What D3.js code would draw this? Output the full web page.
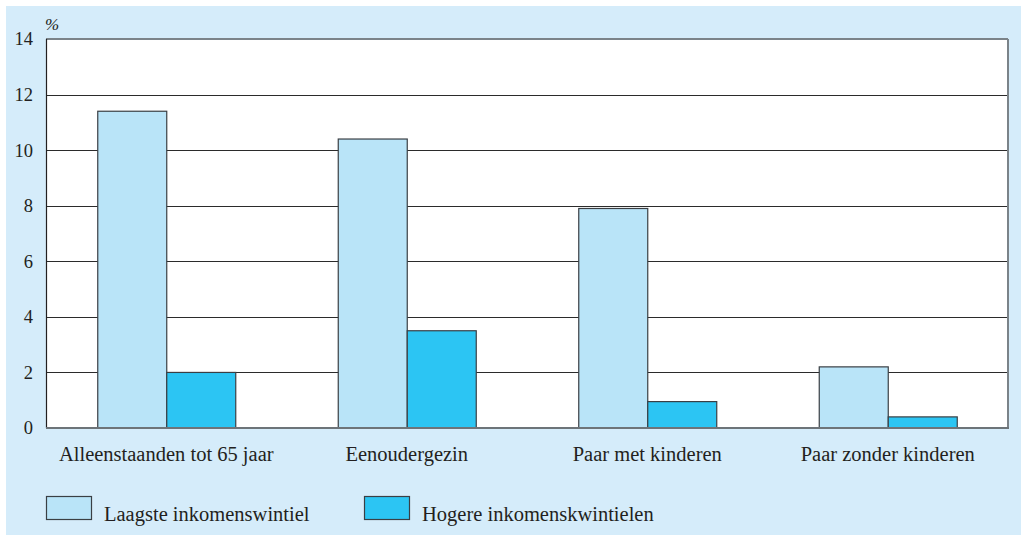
<!DOCTYPE html>
<html>
<head>
<meta charset="utf-8">
<script src="https://cdn.jsdelivr.net/npm/d3@7"></script>
<style>
  html, body { margin: 0; padding: 0; background: #fff; }
  svg text { font-family: "Liberation Serif", "DejaVu Serif", serif; fill: #231f20; }
</style>
</head>
<body>
<svg id="chart" width="1021" height="535"></svg>
<script>
// household types and the two income groups
var categories = ["Alleenstaanden tot 65 jaar", "Eenoudergezin", "Paar met kinderen", "Paar zonder kinderen"];
var seriesNames = ["Laagste inkomenswintiel", "Hogere inkomenskwintielen"];
var laagste = [11.4, 10.4, 7.9, 2.2];
var hogere = [2.0, 3.5, 0.95, 0.4];
var yTicks = [0, 2, 4, 6, 8, 10, 12, 14];

var colors = ["#b9e4f8", "#2cc5f3"];

var svg = d3.select("#chart");
var margin = { left: 46, right: 1008, top: 39, bottom: 428 };

// light blue panel
svg.append("rect")
    .attr("x", 6).attr("y", 6)
    .attr("width", 1015).attr("height", 529)
    .attr("fill", "#d5ecfa");

var x = d3.scaleBand()
    .domain(categories)
    .range([margin.left, margin.right])
    .paddingInner(0)
    .paddingOuter(0);

var y = d3.scaleLinear()
    .domain([0, 14])
    .range([margin.bottom, margin.top]);

var barW = 69;

// plot background
svg.append("rect")
    .attr("x", margin.left).attr("y", margin.top)
    .attr("width", margin.right - margin.left)
    .attr("height", margin.bottom - margin.top)
    .attr("fill", "#fff");

// gridlines
svg.append("g").selectAll("line")
    .data(yTicks.filter(function(d) { return d > 0 && d < 14; }))
    .enter().append("line")
    .attr("x1", margin.left).attr("x2", margin.right)
    .attr("y1", function(d) { return Math.round(y(d)) + 0.5; })
    .attr("y2", function(d) { return Math.round(y(d)) + 0.5; })
    .attr("stroke", "#2b2b2b")
    .attr("stroke-width", 1);

// bars
var rows = categories.map(function(c, i) { return { cat: c, vals: [laagste[i], hogere[i]] }; });
var groups = svg.append("g").selectAll("g")
    .data(rows)
    .enter().append("g");

groups.selectAll("rect")
    .data(function(d) { return d.vals.map(function(v, j) { return { cat: d.cat, v: v, j: j }; }); })
    .enter().append("rect")
    .attr("x", function(d) { return x(d.cat) + x.bandwidth() / 2 - barW + d.j * barW + 0.5; })
    .attr("y", function(d) { return y(d.v); })
    .attr("width", barW)
    .attr("height", function(d) { return y(0) - y(d.v); })
    .attr("fill", function(d) { return colors[d.j]; })
    .attr("stroke", "#3a3f44")
    .attr("stroke-width", 1.2);

// frame: left dark, top/right/bottom gray
svg.append("line")
    .attr("x1", margin.left).attr("x2", margin.right)
    .attr("y1", margin.top).attr("y2", margin.top)
    .attr("stroke", "#7b8389").attr("stroke-width", 2);
svg.append("line")
    .attr("x1", margin.right).attr("x2", margin.right)
    .attr("y1", margin.top).attr("y2", margin.bottom)
    .attr("stroke", "#7b8389").attr("stroke-width", 2);
svg.append("line")
    .attr("x1", margin.left + 0.5).attr("x2", margin.left + 0.5)
    .attr("y1", margin.top).attr("y2", margin.bottom)
    .attr("stroke", "#231f20").attr("stroke-width", 1.2);
svg.append("line")
    .attr("x1", margin.left).attr("x2", margin.right + 1)
    .attr("y1", margin.bottom).attr("y2", margin.bottom)
    .attr("stroke", "#6d7479").attr("stroke-width", 2);

// y axis labels
var yAxis = d3.axisLeft(y).tickValues(yTicks).tickSize(0).tickPadding(13);
var ya = svg.append("g")
    .attr("transform", "translate(" + margin.left + ",0)")
    .call(yAxis);
ya.select(".domain").remove();
ya.selectAll("text")
    .style("font-family", '"Liberation Serif", serif')
    .style("font-size", "18.5px")
    .attr("fill", "#231f20");

svg.append("text")
    .attr("x", 45).attr("y", 30)
    .style("font-size", "17px")
    .style("font-style", "italic")
    .text("%");

// category labels
var xAxis = d3.axisBottom(x).tickSize(0).tickPadding(18);
var xa = svg.append("g")
    .attr("transform", "translate(0," + margin.bottom + ")")
    .call(xAxis);
xa.select(".domain").remove();
xa.selectAll("text")
    .style("font-family", '"Liberation Serif", serif')
    .style("font-size", "20.5px")
    .attr("fill", "#231f20");

// legend
var legendX = [46, 364];
var lg = svg.append("g").selectAll("g")
    .data(seriesNames)
    .enter().append("g")
    .attr("transform", function(d, i) { return "translate(" + legendX[i] + ",496)"; });
lg.append("rect")
    .attr("x", 0.5).attr("y", 0.5)
    .attr("width", 45).attr("height", 23)
    .attr("fill", function(d, i) { return colors[i]; })
    .attr("stroke", "#3a3f44")
    .attr("stroke-width", 1.2);
lg.append("text")
    .attr("x", 58).attr("y", 25)
    .style("font-size", "20.5px")
    .text(function(d) { return d; });
</script>
</body>
</html>
